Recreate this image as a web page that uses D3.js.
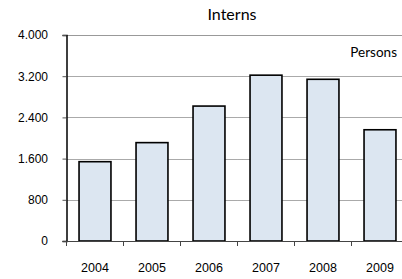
<!DOCTYPE html>
<html>
<head>
<meta charset="utf-8">
<script src="https://cdn.jsdelivr.net/npm/d3@7"></script>
<style>
  body { margin: 0; background: #fff; overflow: hidden; }
  svg { display: block; font-family: "DejaVu Sans", Verdana, sans-serif; }
</style>
</head>
<body>
<div class="container"></div>
<script>
// data
const years = ["2004", "2005", "2006", "2007", "2008", "2009"]
const interns = [1540, 1910, 2620, 3220, 3140, 2160]
const yTicks = [0, 800, 1600, 2400, 3200, 4000]

const w = 402
const h = 279
const padLeft = 66.5
const padTop = 35
const base = 241

const svg = d3.select('.container')
  .append('svg')
  .attr('width', w)
  .attr('height', h)

const xScale = d3.scaleBand()
  .domain(years)
  .range([padLeft, padLeft + 6 * 57])
  .paddingInner(0.44)
  .paddingOuter(0.22)

const yScale = d3.scaleLinear()
  .domain([0, 4000])
  .range([base, padTop])

// gridlines
svg.append('g')
  .selectAll('line')
  .data(yTicks.filter(d => d > 0 && d < 4000))
  .enter()
  .append('line')
  .attr('x1', padLeft)
  .attr('x2', w)
  .attr('y1', d => Math.round(yScale(d)) + 0.5)
  .attr('y2', d => Math.round(yScale(d)) + 0.5)
  .attr('stroke', '#555')
  .attr('stroke-dasharray', '1,1')

// top border
svg.append('line')
  .attr('x1', padLeft).attr('x2', w)
  .attr('y1', yScale(4000) + 0.5).attr('y2', yScale(4000) + 0.5)
  .attr('stroke', '#999')
  .attr('stroke-width', 1.2)

// bars
svg.append('g')
  .selectAll('rect')
  .data(interns)
  .enter()
  .append('rect')
  .attr('x', (d, i) => xScale(years[i]))
  .attr('y', d => yScale(d))
  .attr('width', xScale.bandwidth())
  .attr('height', d => base - yScale(d))
  .attr('fill', '#dce6f1')
  .attr('stroke', '#000')
  .attr('stroke-width', 1.6)

// y axis
const yAxis = d3.axisLeft(yScale)
  .tickValues(yTicks)
  .tickSize(4)
  .tickFormat(d => d3.format(',')(d).replace(/,/g, '.'))

const yg = svg.append('g')
  .attr('transform', 'translate(' + padLeft + ',0)')
  .call(yAxis)
yg.select('.domain').attr('stroke', '#000').attr('stroke-width', 1.5)
yg.selectAll('.tick line').attr('stroke', '#555')
yg.selectAll('.tick text')
  .attr('x', -18.5)
  .style('font-size', '12px')
  .attr('fill', '#000')

// x axis
const xAxis = d3.axisBottom(xScale).tickSize(0)
const xg = svg.append('g')
  .attr('transform', 'translate(0,' + base + ')')
  .call(xAxis)
xg.select('.domain').remove()
xg.append('line')
  .attr('x1', padLeft - 4).attr('x2', w)
  .attr('y1', 0.5).attr('y2', 0.5)
  .attr('stroke', '#444').attr('stroke-width', 1.2)
xg.selectAll('.tick text')
  .attr('y', 22)
  .style('font-size', '12.5px')
  .attr('fill', '#000')

// category boundary ticks
xg.append('g')
  .selectAll('line')
  .data(years)
  .enter()
  .append('line')
  .attr('x1', (d, i) => xScale.step() * i + padLeft)
  .attr('x2', (d, i) => xScale.step() * i + padLeft)
  .attr('y1', 0).attr('y2', 5)
  .attr('stroke', '#444')

// title
svg.append('text')
  .attr('x', 232)
  .attr('y', 19.5)
  .attr('text-anchor', 'middle')
  .style('font-family', 'Lato, sans-serif')
  .style('font-size', '16px')
  .text('Interns')

svg.append('text')
  .attr('x', 397)
  .attr('y', 57)
  .attr('text-anchor', 'end')
  .style('font-family', 'Lato, sans-serif')
  .style('font-size', '13.5px')
  .text('Persons')
</script>
</body>
</html>
